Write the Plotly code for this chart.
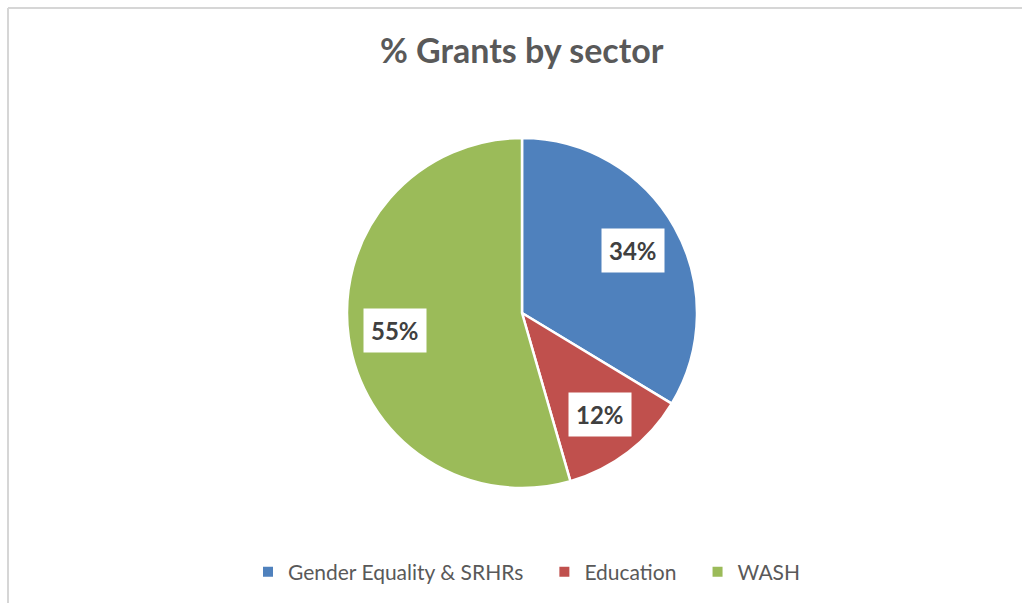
import math
import plotly.graph_objects as go

categories = ["Gender Equality & SRHRs", "Education", "WASH"]
values = [34, 12, 55]
value_labels = ["34%", "12%", "55%"]
colors = ["#4F81BD", "#C0504D", "#9BBB59"]
title_text = "% Grants by sector"

W, H = 1022, 603
cx, cy, r = 522, 313, 175  # pie centre/radius in pixels

# legend entries get a little trailing padding (except the last) to mimic the wider item spacing
legend_names = [c + ("\u00a0" * 3 if i < len(categories) - 1 else "") for i, c in enumerate(categories)]

fig = go.Figure()
fig.add_trace(go.Pie(
    labels=legend_names,
    values=values,
    sort=False,
    direction="clockwise",
    rotation=0,
    marker=dict(colors=colors, line=dict(color="white", width=2.5)),
    textinfo="none",
    hoverinfo="label+percent",
    domain=dict(x=[(cx - r) / W, (cx + r) / W], y=[(H - cy - r) / H, (H - cy + r) / H]),
))

# data labels in white boxes, placed along each slice's mid-angle
total = sum(values)
cum = 0
annotations = []
for v, lab in zip(values, value_labels):
    mid = (cum + v / 2) / total * 2 * math.pi
    cum += v
    px = cx + 0.73 * r * math.sin(mid)
    py = cy - 0.73 * r * math.cos(mid)
    annotations.append(dict(
        x=px / W, y=1 - py / H, xref="paper", yref="paper",
        xanchor="center", yanchor="middle",
        text="<b>" + lab + "</b>",
        showarrow=False, bgcolor="white", borderpad=7,
        font=dict(family="Lato", size=24, color="#404040"),
    ))

annotations.append(dict(
    x=cx / W, y=1 - 50 / H, xref="paper", yref="paper",
    xanchor="center", yanchor="middle",
    text="<b>" + title_text + "</b>", showarrow=False,
    font=dict(family="Lato", size=34, color="#595959"),
))

fig.update_layout(
    width=W, height=H,
    margin=dict(l=0, r=0, t=0, b=0),
    paper_bgcolor="white", plot_bgcolor="white",
    showlegend=True,
    legend=dict(
        orientation="h", x=527 / W, xanchor="center", y=(H - 572) / H, yanchor="middle",
        font=dict(family="Lato", size=21, color="#595959"),
        itemsizing="constant",
    ),
    annotations=annotations,
    shapes=[
        dict(type="line", xref="paper", yref="paper", x0=8 / W, x1=1, y0=1 - 8 / H, y1=1 - 8 / H,
             line=dict(color="#D6D6D6", width=2)),
        dict(type="line", xref="paper", yref="paper", x0=8 / W, x1=8 / W, y0=0, y1=1 - 8 / H,
             line=dict(color="#D6D6D6", width=2)),
    ],
)

fig.write_html("out.html")
